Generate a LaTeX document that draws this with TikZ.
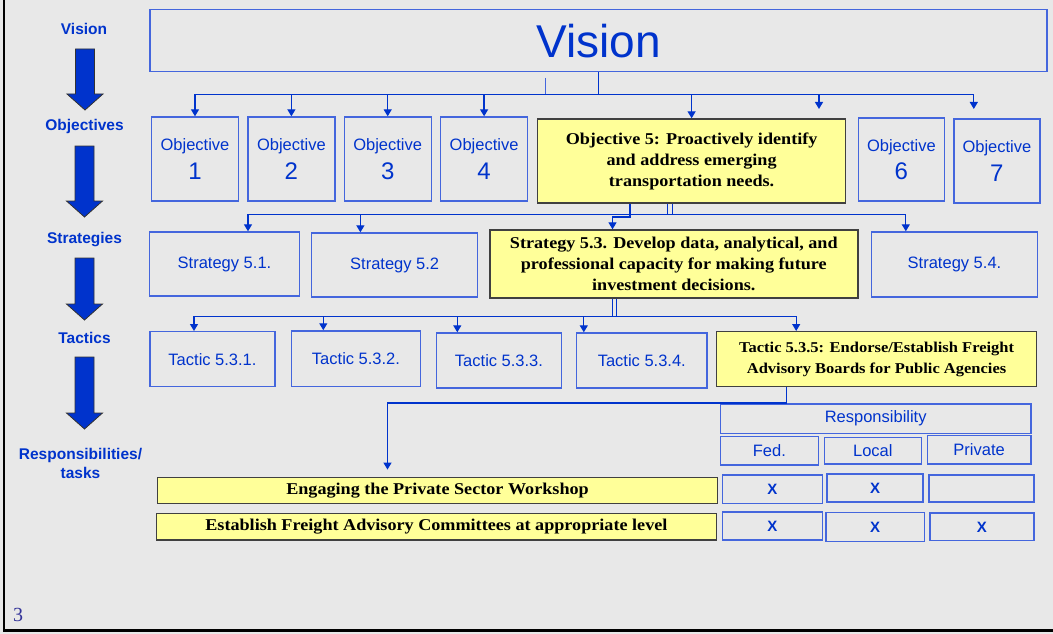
\documentclass[tikz,border=0pt]{standalone}
\usepackage{fontspec}
\setmainfont{Liberation Serif}
\setsansfont{Liberation Sans}
\newfontfamily\antiqua[FakeStretch=1.1]{Liberation Serif}
\usetikzlibrary{positioning,arrows.meta}
\definecolor{lineblue}{HTML}{0033CC}
\definecolor{boxblue}{HTML}{4466DD}
\definecolor{paleyellow}{HTML}{FFFF99}
\definecolor{slidegray}{HTML}{E8E8E8}
\definecolor{pagenum}{HTML}{333399}
\newcommand{\levelarrow}[3]{\filldraw[fill=lineblue, draw=black!80, line width=0.8pt] (#1-9.5,#2) -- (#1+9.5,#2) -- (#1+9.5,#3-16) -- (#1+18,#3-16) -- (#1,#3) -- (#1-18,#3-16) -- (#1-9.5,#3-16) -- cycle;}

\begin{document}
\begin{tikzpicture}[x=1pt,y=-1pt,
		bluebox/.style={rectangle, draw=boxblue, line width=1.4pt, inner sep=2pt, text=lineblue, align=center, font=\sffamily\fontsize{16.5}{20}\selectfont},
		objbox/.style={bluebox, minimum width=87pt, minimum height=84pt, font=\sffamily\fontsize{16.5}{28.6}\selectfont},
		xbox/.style={bluebox, font=\sffamily\bfseries\fontsize{15}{18}\selectfont},
		yellowbox/.style={rectangle, draw=black!75, fill=paleyellow, line width=1.4pt, inner sep=2pt, align=center, font=\antiqua\bfseries\fontsize{16.5}{21}\selectfont},
		levellabel/.style={text=lineblue, align=center, font=\sffamily\bfseries\fontsize{15.5}{19}\selectfont},
		conn/.style={draw=lineblue, line width=1.3pt},
		arr/.style={conn, -{Triangle[width=8pt,length=7pt]}}]
		\fill[slidegray] (0,0) rectangle (1053,634);
		\useasboundingbox (0,0) rectangle (1053,634);
		\draw[line width=2.2pt] (4.3,0) -- (4.3,630.5) -- (1053,630.5);
		
		% levels on the left
		\node[levellabel] (lvision) at (84,29) {Vision};
		\node[levellabel] (lobj) at (84.5,126) {Objectives};
		\node[levellabel] (lstrat) at (84.5,240) {Strategies};
		\node[levellabel] (ltac) at (84.5,338) {Tactics};
		\node[levellabel] (lresp) at (80.5,463.5) {Responsibilities/\\tasks};
		\levelarrow{85}{49}{110}
		\levelarrow{84.5}{146}{217}
		\levelarrow{84.5}{258}{320}
		\levelarrow{84.5}{357}{429}
		\node[text=pagenum, font=\fontsize{20}{22}\selectfont] (slideno) at (18,615) {3};
		
		% vision and objectives
		\node[bluebox, minimum width=897pt, minimum height=62pt, font=\sffamily\fontsize{46}{50}\selectfont] (vision) at (598.5,40.7) {Vision};
		\node[objbox] (obj1) at (195,159) {Objective\\{\fontsize{24}{28}\selectfont 1}};
		\node[objbox] (obj2) at (291.4,159) {Objective\\{\fontsize{24}{28}\selectfont 2}};
		\node[objbox] (obj3) at (387.7,159) {Objective\\{\fontsize{24}{28}\selectfont 3}};
		\node[objbox] (obj4) at (484.1,159) {Objective\\{\fontsize{24}{28}\selectfont 4}};
		\node[yellowbox, minimum width=308pt, minimum height=84pt] (obj5) at (691.6,161) {Objective 5: Proactively identify\\and address emerging\\transportation needs.};
		\node[objbox, minimum width=86pt, minimum height=83pt] (obj6) at (901.4,159.5) {Objective\\{\fontsize{24}{28}\selectfont 6}};
		\node[objbox, minimum width=86pt] (obj7) at (996.9,161) {Objective\\{\fontsize{24}{28}\selectfont 7}};
		
		% strategies
		\node[bluebox, minimum width=150pt, minimum height=64pt] (s51) at (224.5,264) {Strategy 5.1.};
		\node[bluebox, minimum width=166pt, minimum height=64pt] (s52) at (394.7,265) {Strategy 5.2};
		\node[yellowbox, minimum width=368pt, minimum height=68pt] (s53) at (673.8,264) {Strategy 5.3. Develop data, analytical, and\\professional capacity for making future\\investment decisions.};
		\node[bluebox, minimum width=165.5pt, minimum height=65pt] (s54) at (954.5,264.5) {Strategy 5.4.};
		
		% tactics
		\node[bluebox, minimum width=125pt, minimum height=55pt] (tac1) at (212.5,359.2) {Tactic 5.3.1.};
		\node[bluebox, minimum width=129.3pt, minimum height=55.7pt] (tac2) at (356,358.8) {Tactic 5.3.2.};
		\node[bluebox, minimum width=125.2pt, minimum height=55pt] (tac3) at (499,360.5) {Tactic 5.3.3.};
		\node[bluebox, minimum width=130.3pt, minimum height=55pt] (tac4) at (641.8,360.5) {Tactic 5.3.4.};
		\node[yellowbox, minimum width=320.2pt, minimum height=55pt, font=\antiqua\bfseries\fontsize{15}{21}\selectfont] (tac5) at (876.6,359.2) {Tactic 5.3.5: Endorse/Establish Freight\\Advisory Boards for Public Agencies};
		
		% responsibilities
		\node[bluebox, minimum width=310.5pt, minimum height=29.3pt] (resp) at (875.7,418.7) {Responsibility};
		\node[bluebox, minimum width=97.8pt, minimum height=28.3pt] (fed) at (769.4,450.8) {Fed.};
		\node[bluebox, minimum width=97.2pt, minimum height=26.7pt] (local) at (872.8,450.7) {Local};
		\node[bluebox, minimum width=103.8pt, minimum height=28.3pt] (priv) at (979.1,449.8) {Private};
		\node[yellowbox, minimum width=560pt, minimum height=26pt] (task1) at (437.5,490.3) {Engaging the Private Sector Workshop};
		\node[xbox, minimum width=100pt, minimum height=28.3pt] (x11) at (772.3,489.2) {X};
		\node[xbox, minimum width=96pt, minimum height=28pt] (x12) at (875,488) {X};
		\node[xbox, minimum width=104.8pt, minimum height=27pt] (x13) at (981.4,488.5) {};
		\node[yellowbox, minimum width=560pt, minimum height=26.7pt] (task2) at (436.4,526.7) {Establish Freight Advisory Committees at appropriate level};
		\node[xbox, minimum width=100pt, minimum height=28pt] (x21) at (772.3,526) {X};
		\node[xbox, minimum width=98.4pt, minimum height=29pt] (x22) at (875.2,527) {X};
		\node[xbox, minimum width=103.8pt, minimum height=27.7pt] (x23) at (981.9,526.9) {X};
		
		% connectors
		\coordinate (busO) at (598.5,94.5);
		\coordinate (stubtop) at (545.8,78);
		\coordinate (end6) at (819,109);
		\coordinate (end7) at (973.8,109);
		\draw[conn, line width=1.8pt] (vision.south) -- (busO);
		\draw[conn, draw=boxblue, line width=1pt] (stubtop) -- (stubtop |- busO);
		\draw[arr] (busO) -| (obj1.north);
		\draw[arr] (busO) -| (obj2.north);
		\draw[arr] (busO) -| (obj3.north);
		\draw[arr] (busO) -| (obj4.north);
		\draw[arr] (busO) -| (obj5.north);
		\draw[arr] (busO) -| (end6);
		\draw[arr] (busO) -| (end7);
		
		\coordinate (busS) at (630,214.5);
		\draw[conn] ([xshift=-61.6pt]obj5.south) -- (busS);
		\draw[conn, line width=0.9pt] ([xshift=-24.6pt]obj5.south) -- ++(0,11.5);
		\draw[conn, line width=0.9pt] ([xshift=-19.6pt]obj5.south) -- ++(0,11.5);
		\draw[arr] (busS) -| ([xshift=23.5pt]s51.north);
		\draw[arr] (busS) -| ([xshift=-34.3pt]s52.north);
		\draw[arr] (busS) -- ++(0,2.5) -| ([xshift=-61.3pt]s53.north);
		\draw[arr] (busS) -| ([xshift=-48.7pt]s54.north);
		
		\coordinate (busT) at (614.8,316.5);
		\draw[conn] ([xshift=-61pt]s53.south) -- ++(0,18.5);
		\draw[conn] ([xshift=-57.3pt]s53.south) -- ++(0,18.5);
		\draw[arr] (busT) -| ([xshift=-18.5pt]tac1.north);
		\draw[arr] (busT) -| ([xshift=-32.7pt]tac2.north);
		\draw[arr] (busT) -| ([xshift=-41.7pt]tac3.north);
		\draw[arr] (busT) -| ([xshift=-58pt]tac4.north);
		\draw[arr] (busT) -| ([xshift=-80.4pt]tac5.north);
		
		\draw[arr] ([xshift=-90.3pt]tac5.south) -- ++(0,15.5) -| ([xshift=-50pt,yshift=7pt]task1.north);
	\end{tikzpicture}
\end{document}
